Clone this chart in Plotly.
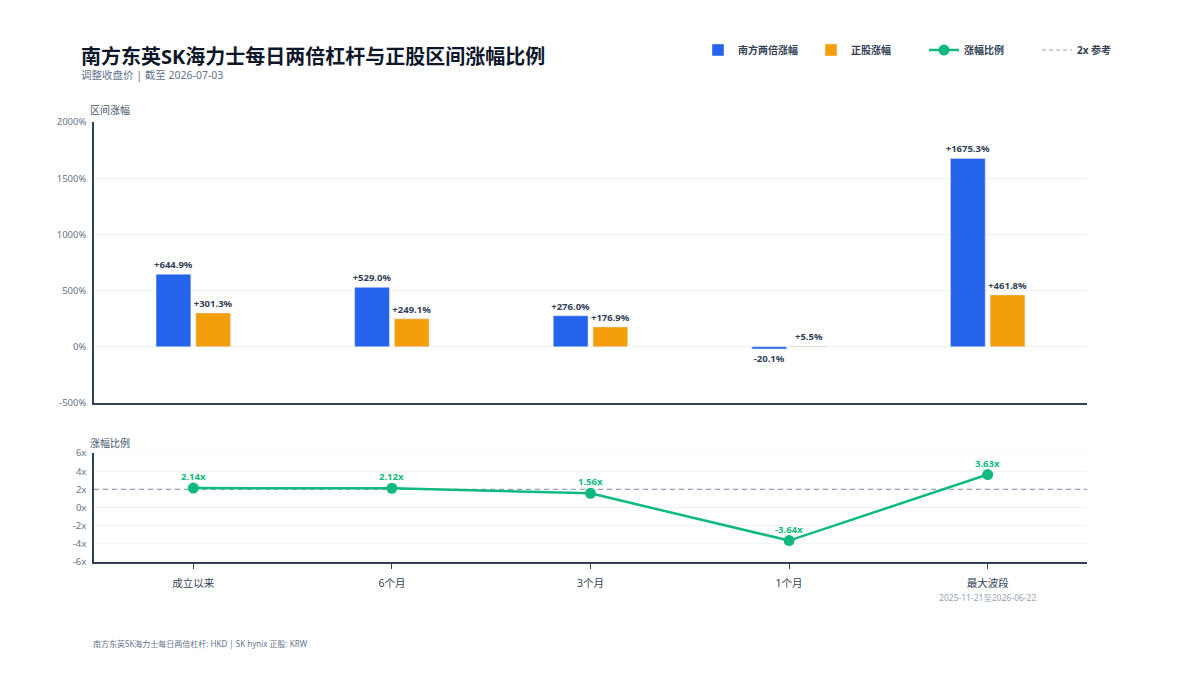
import plotly.graph_objects as go

categories = ["成立以来", "6个月", "3个月", "1个月", "最大波段"]
tick_text = ["成立以来", "6个月", "3个月", "1个月",
             "最大波段<br><span style='font-size:8.5px;color:#94a3b8'>2025-11-21至2026-06-22</span>"]
lev_ret = [644.9, 529.0, 276.0, -20.1, 1675.3]
stock_ret = [301.3, 249.1, 176.9, 5.5, 461.8]
ratio = [2.14, 2.12, 1.56, -3.64, 3.63]
y1_ticks = [-500, 0, 500, 1000, 1500, 2000]
y2_ticks = [-6, -4, -2, 0, 2, 4, 6]
ref_level = 2

BLUE = "#2563EB"
ORANGE = "#F59E0B"
GREEN = "#10B981"
DARK = "#334155"
GRAY = "#64748b"
GRID = "#eef1f5"
DASH = "#94a3b8"
FONT = "Noto Sans, Noto Sans CJK SC, sans-serif"

fig = go.Figure()
fig.add_trace(go.Bar(
    x=categories, y=lev_ret, name="南方两倍涨幅", marker_color=BLUE,
    text=[f"{v:+.1f}%" for v in lev_ret], textposition="outside", constraintext="none",
    textfont=dict(size=9.5, color=DARK, family=FONT, weight="bold"), cliponaxis=False,
    xaxis="x", yaxis="y", legendrank=1))
fig.add_trace(go.Bar(
    x=categories, y=stock_ret, name="正股涨幅", marker_color=ORANGE,
    text=[f"{v:+.1f}%" for v in stock_ret], textposition="outside", constraintext="none",
    textfont=dict(size=9.5, color=DARK, family=FONT, weight="bold"), cliponaxis=False,
    xaxis="x", yaxis="y", legendrank=2))
fig.add_trace(go.Scatter(
    x=categories, y=ratio, name="涨幅比例", mode="lines+markers",
    line=dict(color=GREEN, width=2.5), marker=dict(color=GREEN, size=11),
    cliponaxis=False, xaxis="x2", yaxis="y2", legendrank=3))
fig.add_trace(go.Scatter(
    x=[None], y=[None], name="2x 参考", mode="lines",
    line=dict(color=DASH, width=1.2, dash="4px,3px"),
    xaxis="x2", yaxis="y2", legendrank=4))

for c, v in zip(categories, ratio):
    fig.add_annotation(x=c, y=v, xref="x2", yref="y2", text=f"{v:.2f}x",
                       showarrow=False, yanchor="bottom", yshift=3,
                       font=dict(size=9.5, color=GREEN, family=FONT, weight="bold"))

# gridlines of the lower panel drawn as shapes so the 2x reference sits on top of them
for t in y2_ticks:
    fig.add_shape(type="line", xref="x2 domain", yref="y2", x0=0, x1=1, y0=t, y1=t,
                  line=dict(color=GRID, width=1), layer="below")
fig.add_shape(type="line", xref="x2 domain", yref="y2", x0=0, x1=1,
              y0=ref_level, y1=ref_level,
              line=dict(color=DASH, width=1.2, dash="5px,4px"), layer="below")

fig.update_layout(
    width=1200, height=675,
    margin=dict(l=94, r=113, t=122, b=113, autoexpand=False),
    paper_bgcolor="white", plot_bgcolor="white",
    font=dict(family=FONT, color=DARK),
    barmode="group", bargap=0.6, bargroupgap=0.124,
    showlegend=True,
    legend=dict(orientation="h", x=(698 - 94) / 993, xanchor="left",
                y=1 + 72 / 440, yanchor="middle",
                entrywidth=68, entrywidthmode="pixels",
                font=dict(size=10, color=DARK, family=FONT, weight="bold"),
                traceorder="normal", bgcolor="rgba(0,0,0,0)"),
    xaxis=dict(domain=[0, 1], range=[-0.5, 4.5], anchor="y", showticklabels=False,
               showline=True, linecolor=DARK, linewidth=1.5, showgrid=False,
               matches="x2"),
    yaxis=dict(domain=[0.3614, 1], range=[-500, 2000],
               tickmode="array", tickvals=y1_ticks, ticktext=[f"{v}%" for v in y1_ticks],
               showline=True, linecolor=DARK, linewidth=1.5, gridcolor=GRID,
               zeroline=False, tickfont=dict(size=9.5, color=GRAY), anchor="x",
               ticklabelstandoff=4),
    xaxis2=dict(domain=[0, 1], range=[-0.5, 4.5], anchor="y2",
                tickmode="array", tickvals=categories, ticktext=tick_text,
                showline=True, linecolor=DARK, linewidth=1.5, showgrid=False,
                ticks="outside", ticklen=5, tickcolor=DARK, ticklabelstandoff=6,
                tickfont=dict(size=10.5, color=DARK)),
    yaxis2=dict(domain=[0, 0.2477], range=[-6, 6],
                tickmode="array", tickvals=y2_ticks, ticktext=[f"{v}x" for v in y2_ticks],
                showline=True, linecolor=DARK, linewidth=1.5, showgrid=False,
                zeroline=False, tickfont=dict(size=9.5, color=GRAY), anchor="x2",
                ticklabelstandoff=4),
)

annotations = [
    dict(text="<b>南方东英SK海力士每日两倍杠杆与正股区间涨幅比例</b>", x=79, y=56,
         font=dict(size=20, color="#0f172a")),
    dict(text="调整收盘价 | 截至 2026-07-03", x=79, y=75, font=dict(size=10.5, color=GRAY)),
    dict(text="区间涨幅", x=88, y=110, font=dict(size=10, color="#475569")),
    dict(text="涨幅比例", x=88, y=443, font=dict(size=10, color="#475569")),
    dict(text="南方东英SK海力士每日两倍杠杆: HKD | SK hynix 正股: KRW", x=91, y=643,
         font=dict(size=8, color=GRAY)),
]
for a in annotations:
    fig.add_annotation(text=a["text"], xref="paper", yref="paper",
                       x=(a["x"] - 94) / 993, y=(562 - a["y"]) / 440,
                       xanchor="left", yanchor="middle", showarrow=False,
                       font=dict(family=FONT, **a["font"]))

fig.write_html("out.html")
